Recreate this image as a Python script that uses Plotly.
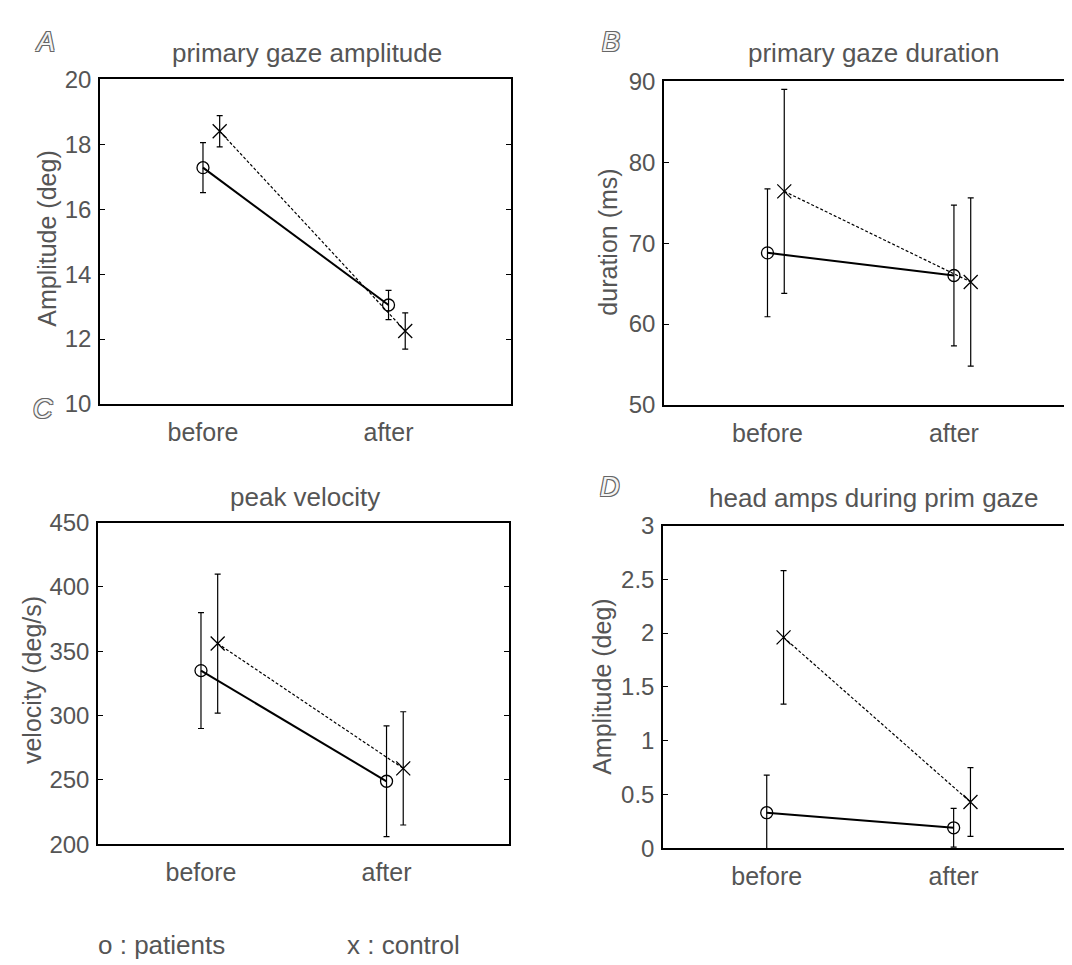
import plotly.graph_objects as go

# ---------------- data ----------------
categories = ["before", "after"]

amp_patients = [17.28, 13.05]
amp_patients_err = [0.77, 0.45]
amp_control = [18.40, 12.25]
amp_control_err = [0.48, 0.56]

dur_patients = [68.8, 66.0]
dur_patients_err = [7.9, 8.7]
dur_control = [76.4, 65.2]
dur_control_err = [12.6, 10.4]

vel_patients = [335, 249]
vel_patients_err = [45, 43]
vel_control = [356, 259]
vel_control_err = [54, 44]

head_patients = [0.33, 0.19]
head_patients_err = [0.35, 0.18]
head_control = [1.96, 0.43]
head_control_err = [0.62, 0.32]

panels = [
    dict(letter="A", title="primary gaze amplitude", ylabel="Amplitude (deg)",
         p=amp_patients, pe=amp_patients_err, c=amp_control, ce=amp_control_err,
         yrange=[10, 20], dtick=2),
    dict(letter="B", title="primary gaze duration", ylabel="duration (ms)",
         p=dur_patients, pe=dur_patients_err, c=dur_control, ce=dur_control_err,
         yrange=[50, 90], dtick=10),
    dict(letter="C", title="peak velocity", ylabel="velocity (deg/s)",
         p=vel_patients, pe=vel_patients_err, c=vel_control, ce=vel_control_err,
         yrange=[200, 450], dtick=50),
    dict(letter="D", title="head amps during prim gaze", ylabel="Amplitude (deg)",
         p=head_patients, pe=head_patients_err, c=head_control, ce=head_control_err,
         yrange=[0, 3], dtick=0.5),
]

# ---------------- layout geometry (pixels) ----------------
W, H = 1072, 965
boxes = [  # left, right, top, bottom
    (92, 503, 59, 393),
    (656, 1069, 61, 394),
    (90, 501, 515, 846),
    (655, 1069, 518, 850),
]
title_pos = [(299, 32), (865, 32), (297, 489), (866, 490)]
ylabel_pos = [(39, 223), (600, 227), (24, 677), (594, 684)]
letter_pos = [(37, 21), (603, 21), (35, 398), (602, 478)]
CONTROL_OFFSET = 0.09
XRANGE = [0.445, 2.66]

TEXT = "#555555"
FONT = "Liberation Sans, Arial, sans-serif"
OUTLINE = "-1px -1px 0 #666, 1px -1px 0 #666, -1px 1px 0 #666, 1px 1px 0 #666"


def px(x):
    return x / W


def py(y):
    return 1 - y / H


fig = go.Figure()
annotations = []
x_base = [i + 1 for i in range(len(categories))]

for i, pn in enumerate(panels):
    n = "" if i == 0 else str(i + 1)
    xa, ya = "x" + n, "y" + n
    xc = [v + CONTROL_OFFSET for v in x_base]

    fig.add_trace(go.Scatter(
        x=x_base, y=pn["p"], xaxis=xa, yaxis=ya, mode="lines+markers",
        line=dict(color="black", width=2),
        marker=dict(symbol="circle-open", size=12, color="black", line=dict(width=1.3)),
        error_y=dict(type="data", array=pn["pe"], visible=True, color="black",
                     thickness=1.2, width=3),
        showlegend=False, hoverinfo="skip"))
    fig.add_trace(go.Scatter(
        x=xc, y=pn["c"], xaxis=xa, yaxis=ya, mode="lines+markers",
        line=dict(color="black", width=1.2, dash="3px,2px"),
        marker=dict(symbol="x-thin-open", size=14, color="black",
                    line=dict(width=1.3, color="black")),
        error_y=dict(type="data", array=pn["ce"], visible=True, color="black",
                     thickness=1.2, width=3),
        showlegend=False, hoverinfo="skip"))

    l, r, t, b = boxes[i]
    fig.update_layout(**{
        ("xaxis" + n): dict(
            domain=[px(l), px(r)], anchor=ya, range=XRANGE,
            tickmode="array", tickvals=x_base, ticktext=categories,
            ticks="", showline=True, linecolor="black", linewidth=1.5, mirror=True,
            showgrid=False, zeroline=False, ticklabelstandoff=5,
            tickfont=dict(family=FONT, size=25, color=TEXT)),
        ("yaxis" + n): dict(
            domain=[py(b), py(t)], anchor=xa, range=pn["yrange"], dtick=pn["dtick"],
            ticks="inside", ticklen=5, tickcolor="black", tickwidth=1,
            showline=True, linecolor="black", linewidth=1.5, mirror="ticks",
            showgrid=False, zeroline=False, ticklabelstandoff=2,
            tickfont=dict(family=FONT, size=24, color=TEXT)),
    })

    tx, ty = title_pos[i]
    annotations.append(dict(x=px(tx), y=py(ty), xref="paper", yref="paper",
                            text=pn["title"], showarrow=False, xanchor="center", yanchor="middle",
                            font=dict(family=FONT, size=26, color=TEXT)))
    lx, ly = ylabel_pos[i]
    annotations.append(dict(x=px(lx), y=py(ly), xref="paper", yref="paper",
                            text=pn["ylabel"], showarrow=False, textangle=-90,
                            xanchor="center", yanchor="middle",
                            font=dict(family=FONT, size=25, color=TEXT)))
    gx, gy = letter_pos[i]
    annotations.append(dict(x=px(gx), y=py(gy), xref="paper", yref="paper",
                            text="<i>" + pn["letter"] + "</i>", showarrow=False,
                            xanchor="center", yanchor="middle",
                            font=dict(family=FONT, size=27, color="#f4f4f4", shadow=OUTLINE)))

legend_items = [("o : patients", 88), ("x : control", 337)]
for txt, lx in legend_items:
    annotations.append(dict(x=px(lx), y=py(950), xref="paper", yref="paper",
                            text=txt, showarrow=False, xanchor="left", yanchor="middle",
                            font=dict(family=FONT, size=26, color=TEXT)))

fig.update_layout(
    width=W, height=H, margin=dict(l=0, r=0, t=0, b=0),
    paper_bgcolor="white", plot_bgcolor="white",
    annotations=annotations, showlegend=False,
)

fig.write_html("out.html")
